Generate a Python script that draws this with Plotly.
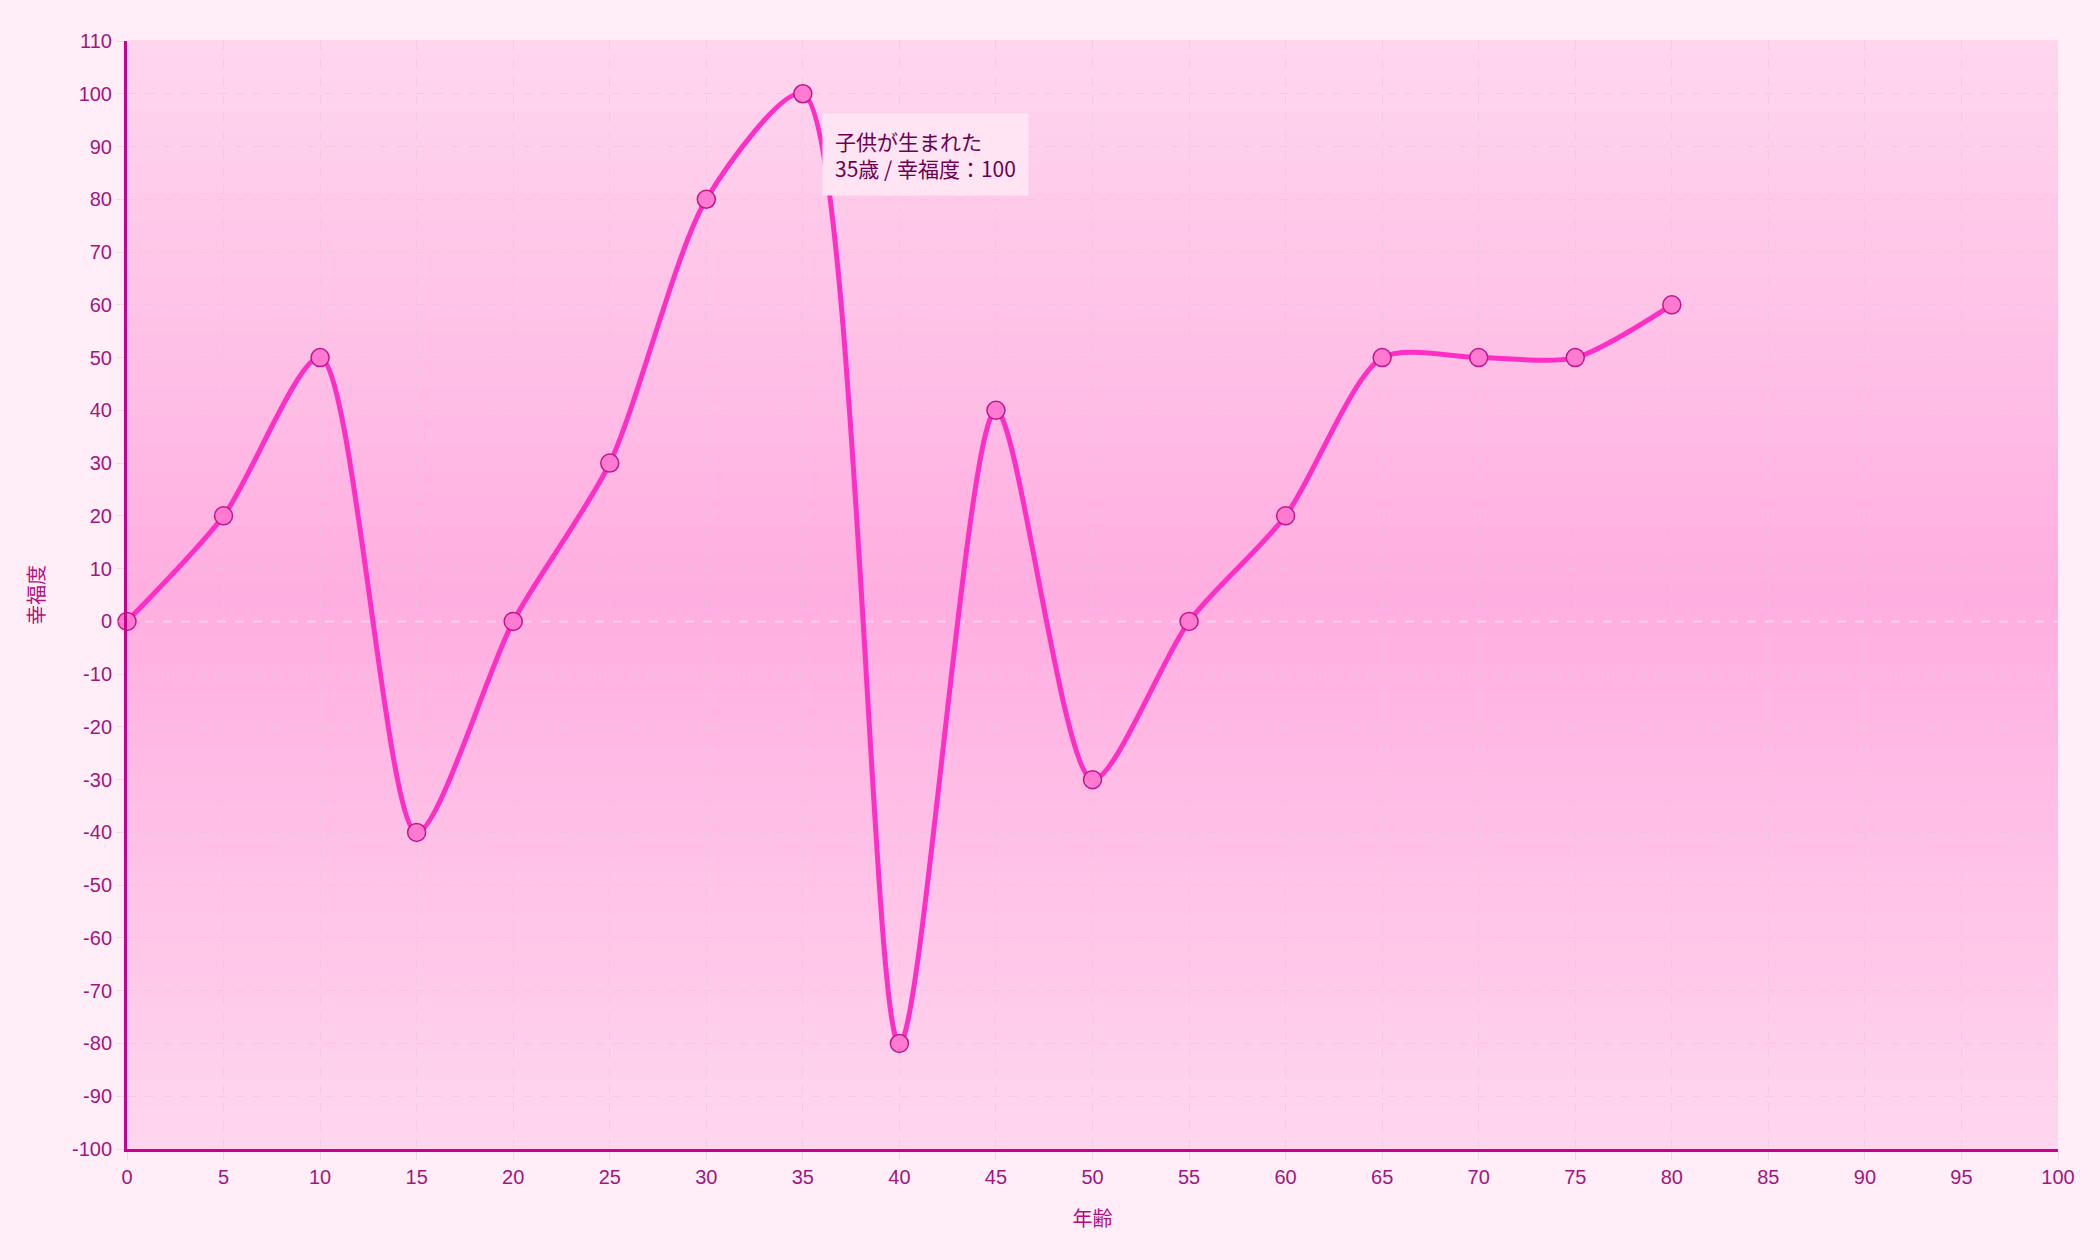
import plotly.graph_objects as go

ages = [0, 5, 10, 15, 20, 25, 30, 35, 40, 45, 50, 55, 60, 65, 70, 75, 80]
happiness = [0, 20, 50, -40, 0, 30, 80, 100, -80, 40, -30, 0, 20, 50, 50, 50, 60]
x_ticks = list(range(0, 101, 5))
y_ticks = list(range(-100, 111, 10))
x_title = "年齢"
y_title = "幸福度"
note_age = 35
note_value = 100
note_event = "子供が生まれた"

fig = go.Figure()

fig.add_trace(go.Scatter(
    x=ages, y=happiness, mode="lines+markers",
    line=dict(color="#ff2ec4", width=5, shape="spline", smoothing=0.75),
    marker=dict(size=18, color="#ff7ad0", line=dict(color="#c0168c", width=1.5)),
    hoverinfo="skip", showlegend=False, cliponaxis=False,
))

# vertical gradient background (light at top/bottom, stronger in the middle)
def lerp(c1, c2, t):
    return tuple(int(round(a + (b - a) * t)) for a, b in zip(c1, c2))

edge = (255, 214, 238)
mid = (255, 174, 225)
n = 80
shapes = []
for i in range(n):
    y0 = i / n
    y1 = (i + 1) / n
    c = (y0 + y1) / 2
    t = 1 - abs(c - 0.5) * 2
    r, g, b = lerp(edge, mid, t)
    shapes.append(dict(type="rect", xref="paper", yref="paper", x0=0, x1=1, y0=y0, y1=y1 + 0.001,
                       fillcolor=f"rgb({r},{g},{b})", line=dict(width=0), layer="below"))
shapes.append(dict(type="line", xref="paper", yref="y", x0=0, x1=1, y0=0, y1=0,
                   line=dict(color="rgba(255,255,255,0.7)", width=1.5, dash="dash"), layer="below"))

fig.update_layout(
    width=2100, height=1260,
    margin=dict(l=127, r=42, t=41, b=111),
    paper_bgcolor="#ffeef8",
    plot_bgcolor="rgba(0,0,0,0)",
    shapes=shapes,
    annotations=[dict(
        x=note_age, y=note_value, xref="x", yref="y",
        text=f"{note_event}<br>{note_age}歳 / 幸福度：{note_value}",
        showarrow=False, xanchor="left", yanchor="top", align="left",
        xshift=19, yshift=-19,
        bgcolor="#ffe4f4", borderpad=12,
        font=dict(family="Noto Sans CJK JP", size=21, color="#6e0052"),
    )],
)

grid_c = "rgba(225,200,215,0.55)"
fig.update_xaxes(
    range=[0, 100], tickvals=x_ticks, ticktext=[str(v) for v in x_ticks],
    showgrid=True, gridcolor=grid_c, griddash="dash", gridwidth=1,
    zeroline=False,
    showline=True, linecolor="#c8008c", linewidth=3,
    ticks="outside", ticklen=8, tickcolor=grid_c,
    tickfont=dict(family="Liberation Sans", size=20, color="#a3157f"),
    title=dict(text=x_title, font=dict(family="Noto Sans CJK JP", size=20, color="#b0107f"), standoff=25),
)
fig.update_yaxes(
    range=[-100, 110], tickvals=y_ticks, ticktext=[str(v) for v in y_ticks],
    showgrid=True, gridcolor=grid_c, griddash="dash", gridwidth=1,
    zeroline=False,
    showline=True, linecolor="#c8008c", linewidth=3,
    ticks="outside", ticklen=8, tickcolor=grid_c,
    tickfont=dict(family="Liberation Sans", size=20, color="#a3157f"),
    title=dict(text=y_title, font=dict(family="Noto Sans CJK JP", size=20, color="#b0107f"), standoff=22),
)

fig.write_html(
    "out.html",
    config={"displayModeBar": False},
    post_script="document.body.style.margin='0';document.body.style.background='#ffeef8';",
)
